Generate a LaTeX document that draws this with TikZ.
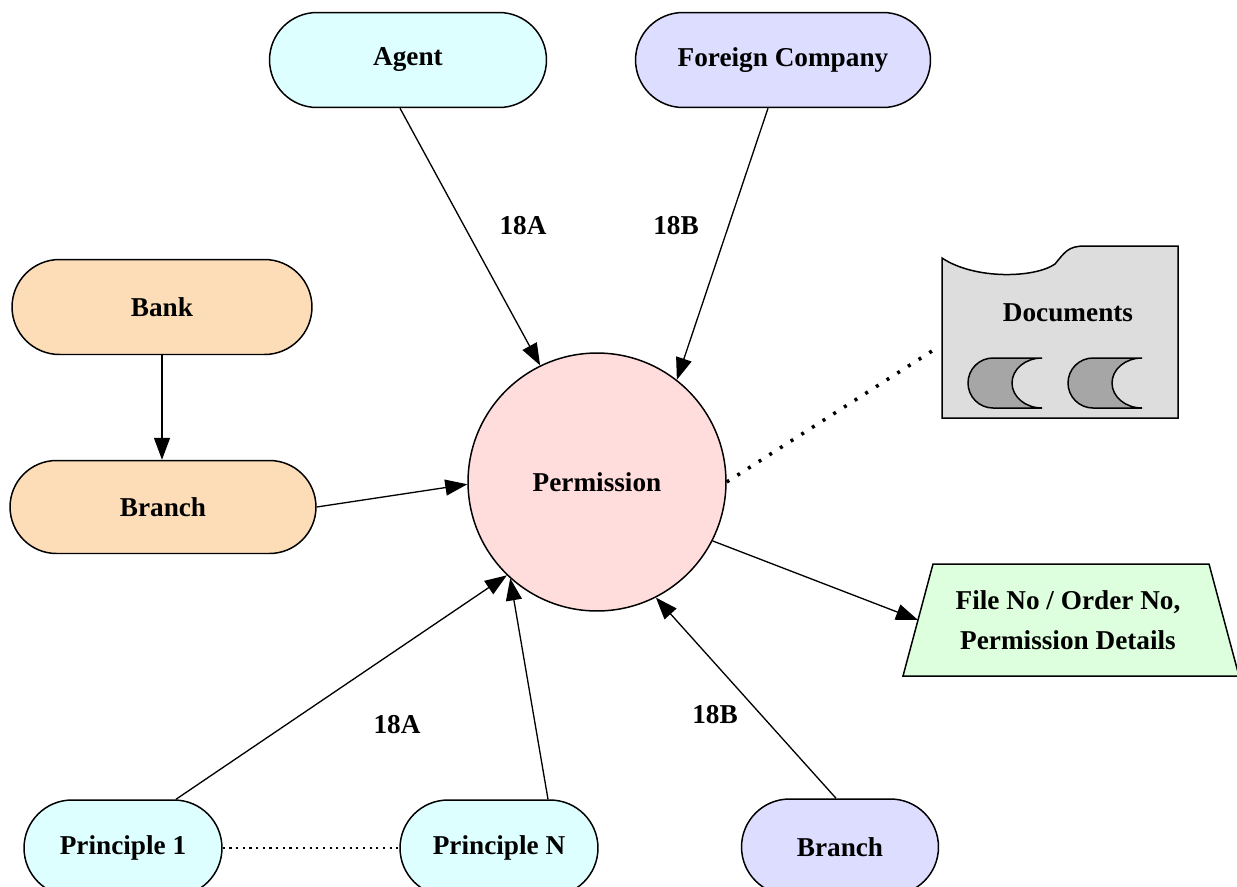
\documentclass[tikz,border=0pt]{standalone}
\usepackage{fontspec}
\setmainfont{Liberation Serif}
\usetikzlibrary{arrows.meta,shapes.geometric,calc}
\definecolor{cyanbg}{HTML}{DDFFFF}
\definecolor{lavbg}{HTML}{DDDDFF}
\definecolor{peachbg}{HTML}{FCDDB8}
\definecolor{pinkbg}{HTML}{FFDDDD}
\definecolor{docbg}{HTML}{DDDDDD}
\definecolor{docdark}{HTML}{A6A6A6}
\definecolor{greenbg}{HTML}{DDFFDD}
\begin{document}
\begin{tikzpicture}[x=0.02cm,y=-0.02cm,
  every node/.style={font=\fontsize{15.5}{19}\selectfont\bfseries},
  stadium/.style={draw, line width=0.85pt, rectangle, rounded corners=0.95cm, minimum height=1.9cm, inner sep=0pt},
  lowstadium/.style={draw, line width=0.85pt, rectangle, rounded corners=0.96cm, minimum height=1.92cm, inner sep=0pt},
  conn/.style={line width=0.75pt, -{Triangle[length=0.44cm,width=0.32cm]}},
  lbl/.style={inner sep=0pt},
  docline/.style={line width=0.85pt}]
\path[fill=white,use as bounding box] (0,0) rectangle (1237,886);

% nodes
\node[stadium, fill=cyanbg, minimum width=5.54cm] (agent) at (408,60) {Agent};
\node[stadium, fill=lavbg, minimum width=5.9cm] (foreign) at (783,60) {Foreign Company};
\node[stadium, fill=peachbg, minimum width=6.0cm] (bank) at (162,307) {Bank};
\node[stadium, fill=peachbg, minimum width=6.12cm, minimum height=1.86cm, rounded corners=0.93cm] (branchL) at (163,507) {Branch};
\node[circle, draw, fill=pinkbg, minimum size=5.16cm, inner sep=0pt, line width=0.85pt] (perm) at (597,482) {Permission};
\node[lowstadium, fill=cyanbg, minimum width=3.96cm] (p1) at (123,848) {Principle 1};
\node[lowstadium, fill=cyanbg, minimum width=3.96cm] (pn) at (499,848) {Principle N};
\node[lowstadium, fill=lavbg, minimum width=3.94cm] (branchB) at (840,847) {Branch};

% output (trapezoid)
\draw[docline, fill=greenbg] (903,676) -- (933,564) -- (1209,564) -- (1239,676) -- cycle;
\node[align=center, font=\fontsize{15.5}{23}\selectfont\bfseries] (file) at (1068,620)
      {File No / Order No,\\Permission Details};
\coordinate (fileL) at (918,620);

% documents symbol
\draw[docline, fill=docbg] (942,258) .. controls (975,280) and (1035,278) .. (1055,264)
   .. controls (1065,252) and (1068,246) .. (1085,246) -- (1178,246) -- (1178,418) -- (942,418) -- cycle;
\node (docs) at (1068,313) {Documents};
\foreach \dx in {0,100}{
\begin{scope}[shift={(\dx,0)}]
\draw[docline, fill=docdark] (993,358) -- (1042,358)
  .. controls (1025.4,358) and (1012,369.2) .. (1012,383)
  .. controls (1012,396.8) and (1025.4,408) .. (1042,408) -- (993,408)
  .. controls (979.2,408) and (968,396.8) .. (968,383)
  .. controls (968,369.2) and (979.2,358) .. (993,358) -- cycle;
\end{scope}}
\coordinate (docend) at (932,351);

% connectors
\draw[conn] ($(agent.south)+(-8,0)$) -- (perm.116);
\draw[conn] ($(foreign.south)+(-15,0)$) -- (perm.52);
\draw[conn] (bank.south) -- (bank.south |- branchL.north);
\draw[conn] (branchL.east) -- (perm.181);
\draw[conn] ($(p1.north)+(53,0)$) -- (perm.226);
\draw[conn] ($(pn.north)+(49,0)$) -- (perm.228);
\draw[conn] ($(branchB.north)+(-4,0)$) -- (perm.-63);
\draw[conn] (perm.-27) -- (fileL);
\draw[line width=2pt, dash pattern=on 1.7pt off 5.5pt] (perm.east) -- (docend);
\draw[line width=0.6pt, dash pattern=on 1.2pt off 2.6pt] (p1.east) -- (pn.west);

% labels
\node[lbl] (la1) at (523,226) {18A};
\node[lbl] (lb1) at (676,226) {18B};
\node[lbl] (la2) at (397,725) {18A};
\node[lbl] (lb2) at (715,715) {18B};
\end{tikzpicture}
\end{document}
